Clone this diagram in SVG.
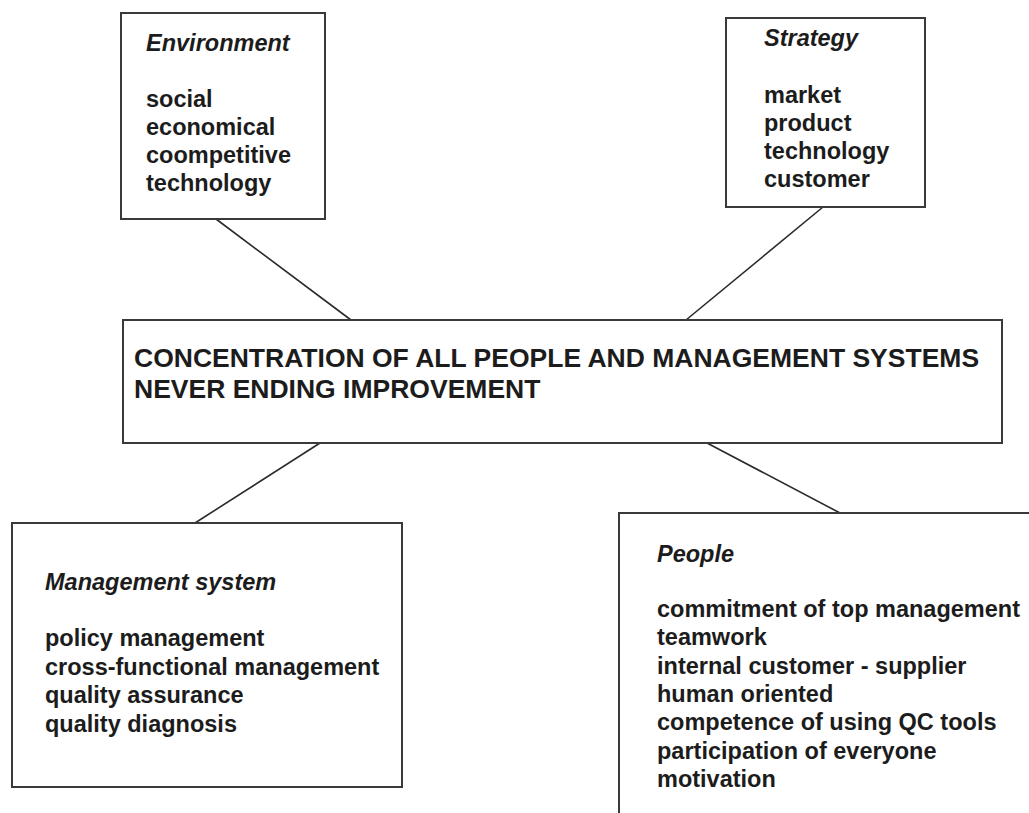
<svg xmlns="http://www.w3.org/2000/svg" width="1029" height="813" viewBox="0 0 1029 813">
<style>
.box{fill:#fff;stroke:#3a3a3a;stroke-width:2}
.ln{stroke:#2a2a2a;stroke-width:1.6;fill:none}
text{font-family:"Liberation Sans",Arial,sans-serif;fill:#1c1c1c;font-weight:bold}
.t{font-size:23.5px}
.h{font-size:23.5px;font-style:italic}
.c{font-size:26.5px}
</style>
<rect width="1029" height="813" fill="#fff"/>
<g id="connectors">
<line class="ln" x1="216" y1="219" x2="351" y2="320"/>
<line class="ln" x1="823" y1="207" x2="686" y2="320"/>
<line class="ln" x1="320" y1="443" x2="195" y2="523"/>
<line class="ln" x1="707" y1="443" x2="840" y2="513"/>
</g>
<g id="environment">
<rect class="box" x="121" y="13" width="204" height="206"/>
<text class="h" x="146" y="51">Environment</text>
<text class="t" x="146" y="107">social</text>
<text class="t" x="146" y="135">economical</text>
<text class="t" x="146" y="163">coompetitive</text>
<text class="t" x="146" y="191">technology</text>
</g>
<g id="strategy">
<rect class="box" x="726" y="18" width="199" height="189"/>
<text class="h" x="764" y="46">Strategy</text>
<text class="t" x="764" y="103">market</text>
<text class="t" x="764" y="131">product</text>
<text class="t" x="764" y="159">technology</text>
<text class="t" x="764" y="187">customer</text>
</g>
<g id="center">
<rect class="box" x="123" y="320" width="879" height="123"/>
<text class="c" x="134" y="367">CONCENTRATION OF ALL PEOPLE AND MANAGEMENT SYSTEMS</text>
<text class="c" x="134" y="398">NEVER ENDING IMPROVEMENT</text>
</g>
<g id="management">
<rect class="box" x="12" y="523" width="390" height="264"/>
<text class="h" x="45" y="590">Management system</text>
<text class="t" x="45" y="646">policy management</text>
<text class="t" x="45" y="674.5">cross-functional management</text>
<text class="t" x="45" y="703">quality assurance</text>
<text class="t" x="45" y="731.5">quality diagnosis</text>
</g>
<g id="people">
<rect class="box" x="619" y="513" width="450" height="350"/>
<text class="h" x="657" y="562">People</text>
<text class="t" x="657" y="617">commitment of top management</text>
<text class="t" x="657" y="645.3">teamwork</text>
<text class="t" x="657" y="673.7">internal customer - supplier</text>
<text class="t" x="657" y="702">human oriented</text>
<text class="t" x="657" y="730.3">competence of using QC tools</text>
<text class="t" x="657" y="758.7">participation of everyone</text>
<text class="t" x="657" y="787">motivation</text>
</g>
</svg>
